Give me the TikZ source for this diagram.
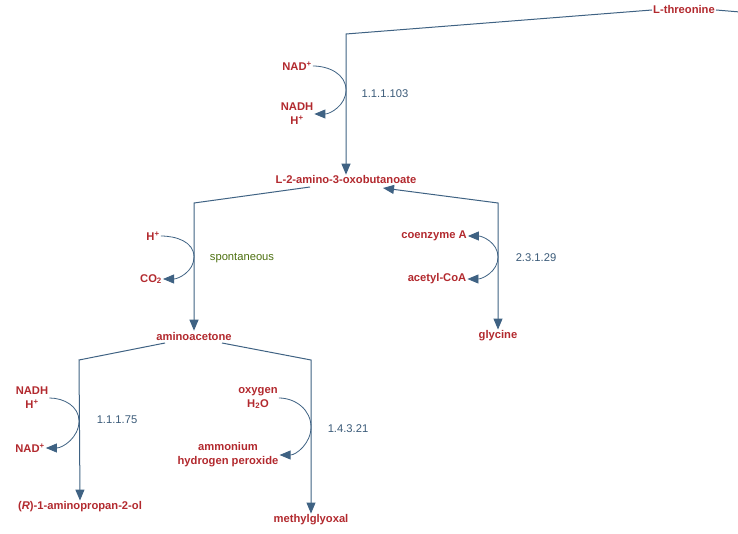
\documentclass[tikz,border=0pt]{standalone}
\usepackage{fontspec}
\setmainfont{Liberation Sans}
\usepackage{tikz}
\usetikzlibrary{arrows.meta}
\definecolor{cpd}{HTML}{B2292E}
\definecolor{rxn}{HTML}{3F6283}
\definecolor{enz}{HTML}{3A5A78}
\definecolor{spon}{HTML}{4D7010}

\begin{document}
\begin{tikzpicture}[x=1pt,y=-1pt,
  cpd/.style={text=cpd,font=\fontsize{11.2}{14}\selectfont\bfseries,inner sep=1pt,align=center},
  enz/.style={text=enz,font=\fontsize{11.2}{14}\selectfont,inner sep=1pt},
  rx/.style={draw=rxn,line width=1pt},
  tip/.style={-{Triangle[length=11pt,width=9pt]}}
  ]
  \useasboundingbox (0,0) rectangle (738,534);
  % main compounds
  \node[cpd] (thr) at (684,10) {L-threonine};
  \node[cpd] (oxo) at (346,180) {L-2-amino-3-oxobutanoate};
  \node[cpd] (amac) at (194,336) {aminoacetone};
  \node[cpd] (gly) at (498,336) {glycine};
  \node[cpd] (apol) at (80,507) {(\textit{R})-1-aminopropan-2-ol};
  \node[cpd] (mgo) at (311,520) {methylglyoxal};
  \coordinate (out) at (740,12);
  % side compounds
  \node[cpd] (nadp1) at (297,66) {NAD\textsuperscript{+}};
  \node[cpd] (nadh1) at (297,114) {NADH\\H\textsuperscript{+}};
  \node[cpd] (hp) at (153,236) {H\textsuperscript{+}};
  \node[cpd] (co2) at (151,279) {CO\textsubscript{2}};
  \node[cpd] (coa) at (434,236) {coenzyme A};
  \node[cpd] (acoa) at (437,279) {acetyl-CoA};
  \node[cpd] (nadh2) at (32,398) {NADH\\H\textsuperscript{+}};
  \node[cpd] (nadp2) at (30,448) {NAD\textsuperscript{+}};
  \node[cpd] (oxy) at (258,398) {oxygen\\H\textsubscript{2}O};
  \node[cpd] (amm) at (228,455) {ammonium\\hydrogen peroxide};
  % enzymes
  \node[enz] at (385,94) {1.1.1.103};
  \node[text=spon,font=\fontsize{11.2}{14}\selectfont,inner sep=1pt] at (242,258) {spontaneous};
  \node[enz] at (536,258) {2.3.1.29};
  \node[enz] at (117,420) {1.1.1.75};
  \node[enz] at (348,429) {1.4.3.21};
  % corners
  \coordinate (c1) at (346,34);
  \coordinate (c2) at (194,203);
  \coordinate (c3) at (498,203);
  \coordinate (c4) at (79,360);
  \coordinate (c5) at (311,360);
  \coordinate (b1) at (346,90);
  \coordinate (b2) at (194,257);
  \coordinate (b3) at (498,257);
  \coordinate (b4) at (79,421);
  \coordinate (b5) at (311,427);
  \coordinate (s1) at (310,187);
  \coordinate (s2) at (383,188);
  \coordinate (s3) at (165,343);
  \coordinate (s4) at (222,343);
  % reactions
  \draw[rx] (thr.east) -- (out);
  \draw[rx,tip] (thr.west) -- (c1) -- (oxo.north);
  \draw[rx,tip] (s1) -- (c2) -- (amac.north);
  \draw[rx,{Triangle[length=11pt,width=9pt]}-{Triangle[length=11pt,width=9pt]}] (s2) -- (c3) -- (gly.north);
  \draw[rx,tip] (s3) -- (c4) -- (apol.north);
  \draw[rx,tip] (s4) -- (c5) -- (mgo.north);
  % cofactors
  \draw[rx,line width=.8pt,tip] (nadp1.east) to[out=0,in=90] (b1) to[out=-90,in=0] (nadh1.east);
  \draw[rx,line width=.8pt,tip] (hp.east) to[out=0,in=90] (b2) to[out=-90,in=0] (co2.east);
  \draw[rx,line width=.8pt,{Triangle[length=11pt,width=9pt]}-{Triangle[length=11pt,width=9pt]}] (coa.east) to[out=0,in=90] (b3) to[out=-90,in=0] (acoa.east);
  \draw[rx,line width=.8pt,tip] (nadh2.east) to[out=0,in=90] (b4) to[out=-90,in=0] (nadp2.east);
  \draw[rx,line width=.8pt,tip] (oxy.east) to[out=0,in=90] (b5) to[out=-90,in=0] (amm.east);
\end{tikzpicture}
\end{document}
